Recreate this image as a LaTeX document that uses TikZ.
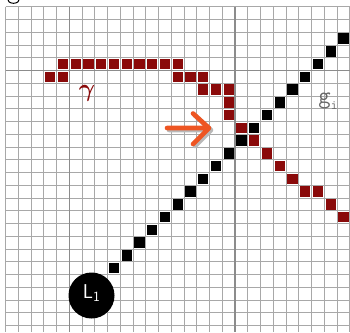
\documentclass[tikz,border=0pt]{standalone}
\usepackage{fontspec}
\usepackage{amsmath}
\definecolor{pxred}{HTML}{8A0A0A}
\definecolor{arroworange}{HTML}{EE5522}
\definecolor{gridgray}{HTML}{A8A8A8}
\definecolor{majorgray}{HTML}{8C8C8C}
\begin{document}
\begin{tikzpicture}[x=1pt,y=-1pt,
  gridline/.style={draw=gridgray, line width=0.9pt},
  majorline/.style={draw=majorgray, line width=1.6pt},
  redpx/.style={fill=pxred},
  blackpx/.style={fill=black},
  arrowstroke/.style={line width=4.6pt, line cap=round, line join=round},
]
\useasboundingbox (0,0) rectangle (350,332);
\fill[white] (0,0) rectangle (350,332);
\def\xo{5.6}\def\yo{6.7}\def\s{12.75}
% grid
\foreach \i in {0,...,27} \draw[gridline] ({\xo+\s*\i},\yo) -- ({\xo+\s*\i},332);
\foreach \j in {0,...,25} \draw[gridline] (\xo,{\yo+\s*\j}) -- (350,{\yo+\s*\j});
\draw[majorline] ({\xo+\s*5},\yo) -- ({\xo+\s*5},332);
\draw[majorline] ({\xo+\s*18},\yo) -- ({\xo+\s*18},332);
\draw[majorline] (\xo,{\yo+\s*5}) -- (350,{\yo+\s*5});
% partial glyph at top left
\begin{scope}
  \clip (0,0) rectangle (30,5);
  \draw[line width=1pt] (13.5,-1.5) ellipse (6.2 and 4.8);
\end{scope}
% red pixels
\foreach \c/\r in {4/4,5/4,6/4,7/4,8/4,9/4,10/4,11/4,12/4,13/4,
  3/5,4/5,13/5,14/5,15/5,15/6,16/6,17/6,17/7,17/8,18/9,19/10,20/11,21/12,
  22/13,23/14,24/14,25/15,26/16}
  \fill[redpx] ({\xo+\s*(\c+0.5)-5.2},{\yo+\s*(\r+0.5)-5.2}) rectangle +(10.4,10.4);
% black pixels
\foreach \c in {8,...,26}
  \fill[blackpx] ({\xo+\s*(\c+0.5)-5.2},{\yo+\s*(28-\c+0.5)-5.2}) rectangle +(10.4,10.4);
% L1 disc
\fill[black] (91.5,295.5) circle (23);
\node[text=white, font=\sffamily\fontsize{20}{20}\selectfont, inner sep=0pt] (L1) at (91.5,293.5)
  {L\raisebox{-0.35ex}{\fontsize{14}{14}\selectfont 1}};
% labels
\node[text=pxred, font=\fontsize{24}{24}\selectfont, inner sep=0pt] (gam) at (87,93) {$\boldsymbol{\gamma}$};
\node[text=black!60, font=\ttfamily\fontsize{24}{24}\selectfont, inner sep=0pt] (gi) at (328,101)
  {g\raisebox{-0.6ex}{\fontsize{13}{13}\selectfont i}};
% arrow with shadow
\draw[arrowstroke, gray!55] (169,130) -- (209,130) (195,115.5) -- (211,130) -- (195,146);
\draw[arrowstroke, arroworange] (167,128) -- (207,128) (193,113.5) -- (209,128) -- (193,144);
\end{tikzpicture}
\end{document}
